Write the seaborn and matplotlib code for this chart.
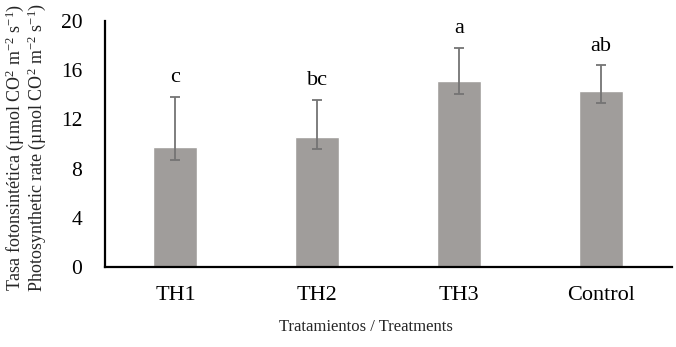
import matplotlib
matplotlib.use("Agg")
import matplotlib.pyplot as plt
import seaborn as sns
import pandas as pd
import numpy as np

categories = ["TH1", "TH2", "TH3", "Control"]
means = [9.75, 10.6, 15.15, 14.35]
err_low = [8.7, 9.6, 14.1, 13.35]
err_high = [13.85, 13.6, 17.85, 16.4]
letters = ["c", "bc", "a", "ab"]
yticks = [0, 4, 8, 12, 16, 20]

sns.set_theme(style="white")
plt.rcParams["font.family"] = ["Liberation Serif", "DejaVu Serif"]
plt.rcParams["mathtext.fontset"] = "custom"
plt.rcParams["mathtext.rm"] = "Liberation Serif"
plt.rcParams["mathtext.it"] = "Liberation Serif:italic"

df = pd.DataFrame({"cat": categories, "val": means})

fig = plt.figure(figsize=(6.76, 3.47), dpi=100)
ax = fig.add_axes([0.1546, 0.2314, 0.994 - 0.1546, 0.9386 - 0.2314])

sns.barplot(data=df, x="cat", y="val", color="#a09d9b", saturation=1,
            width=0.31, ax=ax, errorbar=None, order=categories)

x = np.arange(len(categories))
m = np.array(means)
yerr = np.vstack([m - np.array(err_low), np.array(err_high) - m])
ax.errorbar(x, m, yerr=yerr, fmt="none", ecolor="#747474", elinewidth=1.3,
            capsize=3.3, capthick=1.3)

for xi, hi, lab in zip(x, err_high, letters):
    ax.text(xi, hi + 1.2, lab, ha="center", va="baseline", fontsize=16,
            color="black")

ax.set_ylim(0, 20)
ax.set_xlim(-0.5, len(categories) - 0.5)
ax.set_yticks(yticks)
ax.set_yticklabels([str(t) for t in yticks], fontsize=15.5)
ax.tick_params(axis="y", direction="in", length=4, width=1, pad=16, colors="black")
ax.tick_params(axis="x", length=0, pad=14, labelsize=16, colors="black")

for s in ["top", "right"]:
    ax.spines[s].set_visible(False)
for s in ["left", "bottom"]:
    ax.spines[s].set_color("black")
    ax.spines[s].set_linewidth(1.6)

ax.set_xlabel("")
ax.set_ylabel("")
fig.text(366 / 676, 1 - 327 / 347, "Tratamientos / Treatments", ha="center",
         va="center", fontsize=12)
fig.text(15 / 676, 1 - 147 / 347,
         r"Tasa fotonsintética (µmol CO$^{2}$ m$^{-2}$ s$^{-1}$)",
         rotation=90, ha="center", va="center", fontsize=13)
fig.text(37 / 676, 1 - 147 / 347,
         r"Photosynthetic rate (µmol CO$^{2}$ m$^{-2}$ s$^{-1}$)",
         rotation=90, ha="center", va="center", fontsize=13)

fig.savefig("out.png", dpi=100)
